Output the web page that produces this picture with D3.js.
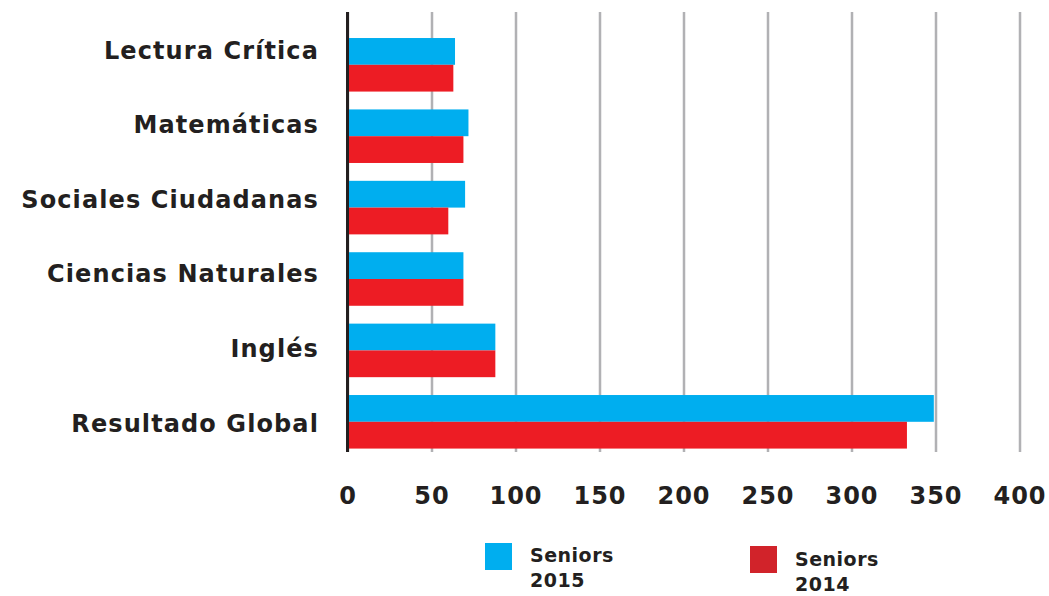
<!DOCTYPE html>
<html>
<head>
<meta charset="utf-8">
<script src="https://cdn.jsdelivr.net/npm/d3@7"></script>
<style>
  html, body { margin: 0; padding: 0; background: #fff; }
  svg { display: block; }
  text { font-family: "DejaVu Sans", sans-serif; font-weight: 700; fill: #231f20; }
</style>
</head>
<body>
<svg id="chart" width="1049" height="596"></svg>
<script>
const categories = ["Lectura Crítica", "Matemáticas", "Sociales Ciudadanas", "Ciencias Naturales", "Inglés", "Resultado Global"];
const seriesNames = ["Seniors 2015", "Seniors 2014"];
const values2015 = [64, 72, 70, 69, 88, 349];
const values2014 = [63, 69, 60, 69, 88, 333];
const tickValues = [0, 50, 100, 150, 200, 250, 300, 350, 400];
const barColors = ["#00aeef", "#ed1c24"];
const legendColors = ["#00aeef", "#d1232a"];

const svg = d3.select("#chart");
const x0 = 347.5, x1 = 1019.5;
const gridTop = 12, gridBottom = 452;

const x = d3.scaleLinear().domain([0, 400]).range([x0, x1]);
const y = d3.scaleBand().domain(categories).range([29.1, 457.5]).paddingInner(0.25).paddingOuter(0.125);
const ySub = d3.scaleBand().domain(seriesNames).range([0, y.bandwidth()]);
const yLabel = d3.scalePoint().domain(categories).range([50, 423]);

// gridlines + tick labels
const xAxis = d3.axisBottom(x).tickValues(tickValues).tickSize(-(gridBottom - gridTop)).tickFormat(d3.format("d"));
const gx = svg.append("g").attr("transform", `translate(0,${gridBottom})`).call(xAxis);
gx.select(".domain").remove();
gx.selectAll(".tick line").attr("stroke", "#b1b1b4").attr("stroke-width", 2.5);
gx.selectAll(".tick text")
  .attr("y", 52).attr("dy", null)
  .attr("font-family", null)
  .style("font-family", "'DejaVu Sans', sans-serif")
  .style("letter-spacing", "1px")
  .style("font-size", "24px").style("font-weight", 700).attr("fill", "#231f20");

// bars
const rows = categories.map((c, i) => ({ c, vals: [values2015[i], values2014[i]] }));
const g = svg.append("g");
rows.forEach(r => {
  r.vals.forEach((v, j) => {
    g.append("rect")
      .attr("x", x(0) + 1)
      .attr("y", y(r.c) + ySub(seriesNames[j]))
      .attr("width", x(v) - x(0) - 1)
      .attr("height", ySub.bandwidth())
      .attr("fill", barColors[j]);
  });
});

// zero axis line
svg.append("line")
  .attr("x1", x(0)).attr("x2", x(0))
  .attr("y1", gridTop).attr("y2", gridBottom)
  .attr("stroke", "#231f20").attr("stroke-width", 3);

// category labels
svg.append("g").selectAll("text").data(categories).join("text")
  .attr("x", 319)
  .attr("y", d => yLabel(d))
  .attr("dy", "0.36em")
  .attr("text-anchor", "end")
  .style("font-size", "24px")
  .style("letter-spacing", "1.1px")
  .text(d => d);

// legend
const legendPos = [{ sx: 485, sy: 543, tx: 530, ty: 562 }, { sx: 750, sy: 546, tx: 795, ty: 566 }];
seriesNames.forEach((name, i) => {
  const p = legendPos[i];
  svg.append("rect").attr("x", p.sx).attr("y", p.sy).attr("width", 27).attr("height", 27).attr("fill", legendColors[i]);
  const parts = name.split(" ");
  const t = svg.append("text").attr("x", p.tx).attr("y", p.ty).style("font-size", "19px").style("letter-spacing", "0.5px");
  t.append("tspan").attr("x", p.tx).text(parts[0]);
  t.append("tspan").attr("x", p.tx).attr("dy", 25).text(parts[1]);
});
</script>
</body>
</html>
